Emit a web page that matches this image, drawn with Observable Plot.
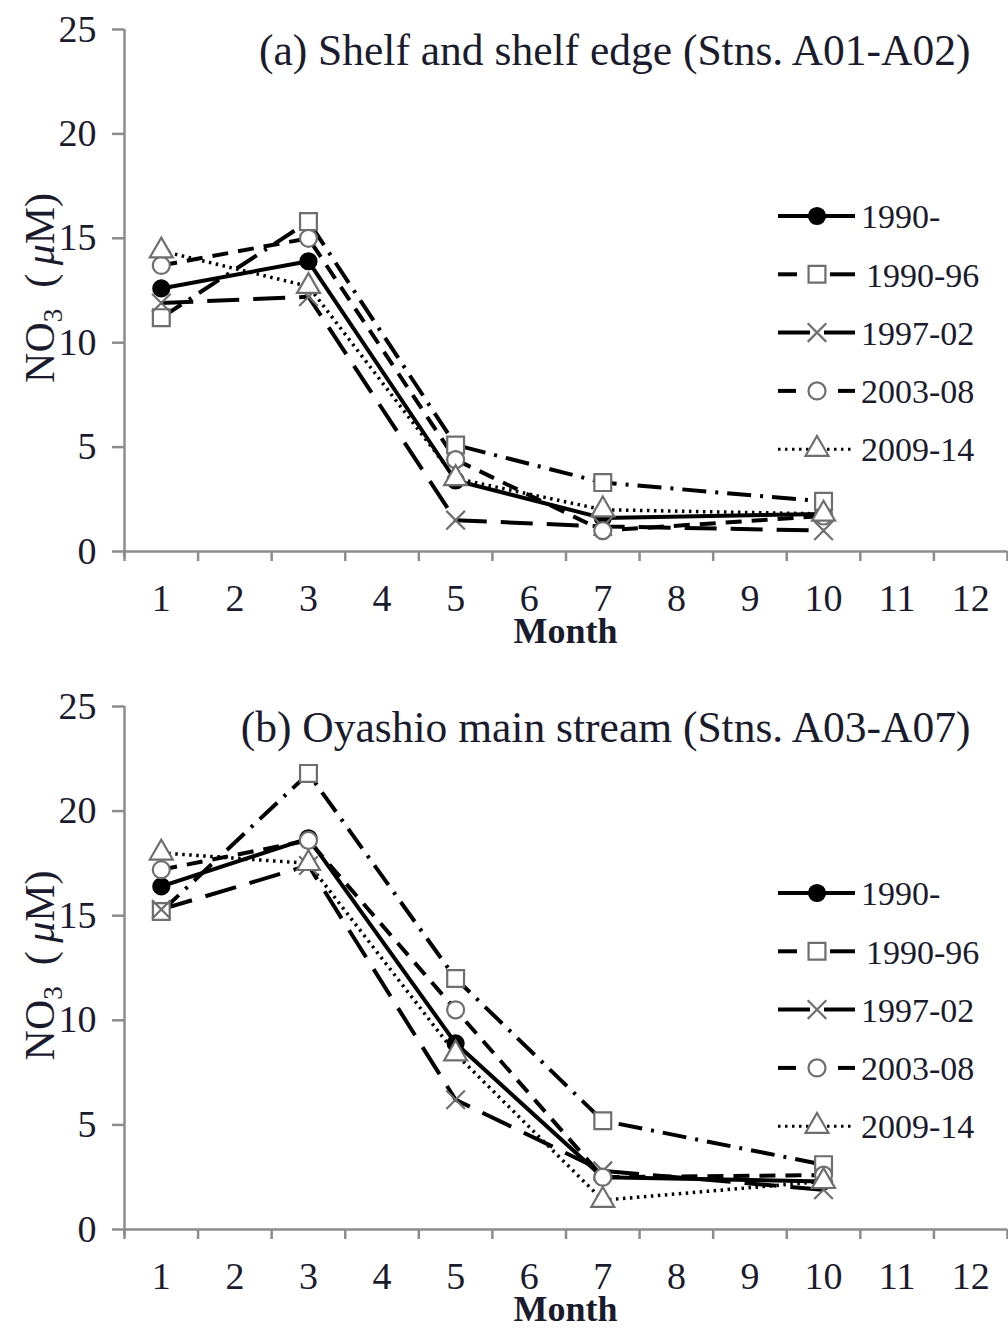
<!DOCTYPE html>
<html><head><meta charset="utf-8">
<script src="https://cdn.jsdelivr.net/npm/d3@7"></script>
<script src="https://cdn.jsdelivr.net/npm/@observablehq/plot@0.6"></script>
<style>
body{margin:0;background:#fff;}
#chart{width:1008px;}
#chart svg{display:block;}
</style>
</head><body><div id="chart"></div>
<script>
// ---- data ----
const months = [1, 3, 5, 7, 10];
const seriesNames = ["1990-", "1990-96", "1997-02", "2003-08", "2009-14"];
const monthTicks = [1,2,3,4,5,6,7,8,9,10,11,12];
const monthBounds = [0.5,1.5,2.5,3.5,4.5,5.5,6.5,7.5,8.5,9.5,10.5,11.5,12.5];
const yTicks = [0, 5, 10, 15, 20, 25];

// panel (a) Shelf and shelf edge
const a_1990    = [12.6, 13.9, 3.4, 1.6, 1.8];
const a_1990_96 = [11.2, 15.8, 5.1, 3.3, 2.4];
const a_1997_02 = [11.9, 12.2, 1.5, 1.2, 1.0];
const a_2003_08 = [13.7, 15.0, 4.4, 1.0, 1.7];
const a_2009_14 = [14.4, 12.7, 3.5, 2.0, 1.8];

// panel (b) Oyashio main stream
const b_1990    = [16.4, 18.7, 8.9, 2.5, 2.3];
const b_1990_96 = [15.2, 21.8, 12.0, 5.2, 3.1];
const b_1997_02 = [15.3, 17.4, 6.2, 2.8, 1.9];
const b_2003_08 = [17.2, 18.6, 10.5, 2.5, 2.6];
const b_2009_14 = [18.0, 17.5, 8.4, 1.4, 2.3];

const titleA = "(a) Shelf and shelf edge (Stns. A01-A02)";
const titleB = "(b) Oyashio main stream (Stns. A03-A07)";

// ---- styles ----
const FONT = "'Liberation Serif', 'DejaVu Serif', serif";
const AXIS = "#8c8c8c";
const TXT = "#1b1b2e";
const MK = "#6e6e6e";
const styles = {
  "1990-":   {dash: null,          width: 4,   symbol: "circle",   fill: "#000", stroke: "#000", r: 8},
  "1990-96": {dash: "24,9,3,9",    width: 4,   symbol: "square",   fill: "#fff", stroke: MK,     r: 9.5},
  "1997-02": {dash: "32,14",       width: 4,   symbol: "times",    fill: "none", stroke: MK,     r: 8.5},
  "2003-08": {dash: "16,10",       width: 4,   symbol: "circle",   fill: "#fff", stroke: MK,     r: 8.5},
  "2009-14": {dash: "2.5,4.5",     width: 3.5, symbol: "triangle", fill: "#fff", stroke: MK,     r: 8.5}
};

function rows(arrs) {
  const out = [];
  seriesNames.forEach((s, i) => months.forEach((m, j) => out.push({series: s, month: m, value: arrs[i][j]})));
  return out;
}

function panel(arrs, title, height, marginBottom) {
  const data = rows(arrs);
  const marks = [
    Plot.ruleY([0], {stroke: AXIS, strokeWidth: 2.5}),
    Plot.ruleX([0.5], {y1: -0.3, y2: 25, stroke: AXIS, strokeWidth: 2.5}),
    Plot.axisY(yTicks, {anchor: "left", tickSize: 12, tickPadding: 16, stroke: AXIS, strokeWidth: 2.5,
      fill: TXT, fontSize: 38, fontFamily: FONT, label: null}),
    Plot.axisX(monthBounds, {anchor: "bottom", tickSize: 10, stroke: AXIS, strokeWidth: 2.5,
      tickFormat: () => "", label: null}),
    Plot.axisX(monthTicks, {anchor: "bottom", tickSize: 0, tickPadding: 33, fill: TXT,
      fontSize: 38, fontFamily: FONT, label: null})
  ];
  for (const s of seriesNames) {
    const st = styles[s];
    marks.push(Plot.line(data.filter(d => d.series === s), {x: "month", y: "value",
      stroke: "#000", strokeWidth: st.width, strokeDasharray: st.dash, strokeLinecap: "butt"}));
  }
  for (const s of seriesNames) {
    const st = styles[s];
    marks.push(Plot.dot(data.filter(d => d.series === s), {x: "month", y: "value",
      symbol: st.symbol, r: st.r, fill: st.fill, stroke: st.stroke, strokeWidth: 2.2}));
  }
  marks.push(Plot.text([title], {frameAnchor: "top-right", dx: -37, dy: 22, lineAnchor: "middle",
    fontSize: 43.5, fontFamily: FONT, fill: TXT, textAnchor: "end"}));

  const plot = Plot.plot({
    width: 1008, height, marginTop: 29, marginBottom, marginLeft: 124, marginRight: 1,
    x: {domain: [0.5, 12.5]},
    y: {domain: [0, 25]},
    style: {background: "#fff", fontFamily: FONT, overflow: "visible"},
    marks
  });

  const svg = d3.select(plot);
  const xs = plot.scale("x"), ys = plot.scale("y");
  // x title
  svg.append("text").attr("x", xs.apply(6.5)).attr("y", ys.apply(0) + 84)
    .attr("text-anchor", "middle").attr("dominant-baseline", "middle")
    .attr("font-family", FONT).attr("font-size", 36).attr("font-weight", "bold").attr("fill", TXT)
    .text("Month");
  // y title
  const yt = svg.append("text")
    .attr("transform", `translate(54,${ys.apply(12.6)}) rotate(-90)`)
    .attr("text-anchor", "middle")
    .attr("font-family", FONT).attr("font-size", 42).attr("fill", TXT);
  yt.append("tspan").text("NO");
  yt.append("tspan").attr("font-size", 27).attr("dy", 8).text("3");
  yt.append("tspan").attr("dy", -8).text("\u2002(\u2009");
  yt.append("tspan").attr("font-style", "italic").text("\u03bc");
  yt.append("tspan").text("M)");

  // legend
  const lg = svg.append("g");
  seriesNames.forEach((s, i) => {
    const st = styles[s];
    const yy = 216 + i * 58.3;
    const x1 = 778, x2 = 855, xm = 817;
    if (s === "1990-96" || s === "2003-08") {
      lg.append("line").attr("x1", x1).attr("x2", s === "1990-96" ? 797 : 796).attr("y1", yy).attr("y2", yy)
        .attr("stroke", "#000").attr("stroke-width", st.width);
      lg.append("line").attr("x1", s === "1990-96" ? 830 : 838).attr("x2", x2).attr("y1", yy).attr("y2", yy)
        .attr("stroke", "#000").attr("stroke-width", st.width);
    } else {
      lg.append("line").attr("x1", x1).attr("x2", x2).attr("y1", yy).attr("y2", yy)
        .attr("stroke", "#000").attr("stroke-width", s === "2009-14" ? 3 : st.width)
        .attr("stroke-dasharray", st.dash);
    }
    const sym = {circle: d3.symbolCircle, square: d3.symbolSquare, times: d3.symbolTimes, triangle: d3.symbolTriangle}[st.symbol];
    lg.append("path").attr("d", d3.symbol(sym, Math.PI * st.r * st.r)())
      .attr("transform", `translate(${xm},${yy})`)
      .attr("fill", st.fill).attr("stroke", st.stroke).attr("stroke-width", 2.2);
    lg.append("text").attr("x", s === "1990-96" ? 866 : 861).attr("y", yy).attr("dy", "0.36em")
      .attr("text-anchor", "start")
      .attr("font-family", FONT).attr("font-size", 34).attr("fill", TXT).text(s);
  });
  return plot;
}

const chart = document.getElementById("chart");
chart.appendChild(panel([a_1990, a_1990_96, a_1997_02, a_2003_08, a_2009_14], titleA, 677, 126));
chart.appendChild(panel([b_1990, b_1990_96, b_1997_02, b_2003_08, b_2009_14], titleB, 651, 99));
</script>
</body></html>
